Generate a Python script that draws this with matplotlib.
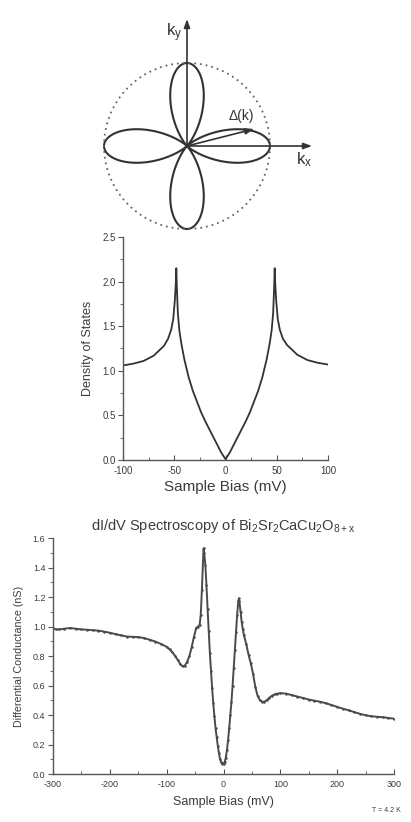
import numpy as np
import matplotlib
matplotlib.use("Agg")
from matplotlib import pyplot as plt
from matplotlib.ticker import MultipleLocator

plt.rcParams['font.family'] = ['Liberation Sans', 'DejaVu Sans']
plt.rcParams['mathtext.fontset'] = 'custom'
plt.rcParams['mathtext.rm'] = 'Liberation Sans'
plt.rcParams['mathtext.it'] = 'Liberation Sans'
plt.rcParams['axes.unicode_minus'] = False

# --- d-wave gap schematic (top) ---
gap_max_px = 83          # lobe length = dotted circle radius
gap_center = (187, 146)

# --- d-wave density of states (middle) ---
dos_bias = [-100, -90, -80, -70, -60, -56, -53, -51, -49.5, -48.5, -48, -47.5, -46.5,
            -45, -43, -40, -36, -32, -28, -24, -20, -16, -12, -8, -4, 0,
            4, 8, 12, 16, 20, 24, 28, 32, 36, 40, 43, 45, 46.5, 47.5, 48, 48.5,
            49.5, 51, 53, 56, 60, 70, 80, 90, 100]
dos_value = [1.06, 1.08, 1.11, 1.17, 1.28, 1.36, 1.46, 1.58, 1.78, 1.98, 2.15, 1.95, 1.65,
             1.45, 1.30, 1.12, 0.93, 0.78, 0.66, 0.54, 0.44, 0.35, 0.26, 0.17, 0.08, 0.01,
             0.08, 0.17, 0.26, 0.35, 0.44, 0.54, 0.66, 0.78, 0.93, 1.12, 1.30, 1.45, 1.65,
             1.95, 2.15, 1.98, 1.78, 1.58, 1.46, 1.36, 1.29, 1.18, 1.12, 1.09, 1.07]

# --- measured dI/dV (bottom) ---
sts_bias = [-300, -295, -290, -280, -270, -260, -250, -240, -230, -220, -210, -200,
            -190, -180, -170, -160, -150, -140, -130, -120, -110, -100, -95, -90,
            -85, -80, -76, -72, -68, -64, -60, -56, -52, -48, -45, -42, -40, -38,
            -36, -35, -34, -32, -30, -28, -26, -24, -22, -20, -18, -16, -14, -12,
            -10, -8, -6, -4, -2, 0, 2, 4, 6, 8, 10, 12, 14, 16, 18, 20, 22, 24, 26,
            27, 28, 30, 32, 34, 36, 40, 44, 48, 52, 56, 60, 64, 68, 72, 76, 80, 85,
            90, 95, 100, 110, 120, 130, 140, 150, 160, 170, 180, 190, 200, 210, 220,
            230, 240, 250, 260, 270, 280, 290, 300]
sts_value = [0.99, 0.98, 0.98, 0.985, 0.99, 0.985, 0.98, 0.978, 0.975, 0.972, 0.965, 0.958,
             0.948, 0.94, 0.932, 0.93, 0.928, 0.922, 0.91, 0.898, 0.882, 0.862, 0.845, 0.825,
             0.80, 0.77, 0.745, 0.73, 0.735, 0.76, 0.80, 0.86, 0.93, 0.99, 1.0, 1.01, 1.08, 1.25,
             1.45, 1.53, 1.50, 1.42, 1.28, 1.12, 0.97, 0.82, 0.70, 0.58, 0.48, 0.39, 0.31, 0.25,
             0.19, 0.14, 0.10, 0.08, 0.07, 0.07, 0.08, 0.11, 0.16, 0.23, 0.31, 0.40, 0.49, 0.60,
             0.72, 0.84, 0.96, 1.08, 1.17, 1.19, 1.17, 1.10, 1.03, 0.98, 0.94, 0.88, 0.81, 0.75,
             0.68, 0.59, 0.53, 0.50, 0.49, 0.49, 0.50, 0.515, 0.53, 0.54, 0.545, 0.548,
             0.545, 0.535, 0.525, 0.515, 0.505, 0.497, 0.49, 0.48, 0.468, 0.455, 0.443, 0.432,
             0.42, 0.408, 0.398, 0.392, 0.388, 0.385, 0.38, 0.375]

ink = '#333333'
txt = '#3c3c3c'

fig = plt.figure(figsize=(4.11, 8.22), dpi=100)

# top: polar gap diagram, drawn in pixel units
ax0 = fig.add_axes([0, 1 - 250 / 822, 1, 250 / 822])
ax0.set_xlim(0, 411)
ax0.set_ylim(250, 0)
ax0.axis('off')
cx, cy = gap_center
th = np.linspace(0, 2 * np.pi, 1441)
r = gap_max_px * np.cos(2 * th) ** 2
ax0.plot(cx + r * np.cos(th), cy - r * np.sin(th), color=ink, lw=1.5)
ax0.plot(cx + gap_max_px * np.cos(th), cy - gap_max_px * np.sin(th),
         ls=(0, (1, 2.2)), color='#666666', lw=1.3)
arrow = dict(arrowstyle='-|>,head_length=0.5,head_width=0.18', color=ink, lw=1.2,
             shrinkA=0, shrinkB=0)
ax0.annotate('', xy=(cx, 19), xytext=(cx, cy), arrowprops=arrow)
ax0.annotate('', xy=(312, cy), xytext=(cx, cy), arrowprops=arrow)
ax0.annotate('', xy=(254, 129), xytext=(cx, cy), arrowprops=arrow)
ax0.text(174, 33, r'$\mathregular{k_y}$', fontsize=12, color=ink, ha='center', va='center')
ax0.text(304, 160, r'$\mathregular{k_x}$', fontsize=12, color=ink, ha='center', va='center')
ax0.text(241, 116, 'Δ(k)', fontsize=10, color=ink, ha='center', va='center')


def style(ax):
    for s in ['top', 'right']:
        ax.spines[s].set_visible(False)
    for s in ['left', 'bottom']:
        ax.spines[s].set_color('#555555')
        ax.spines[s].set_linewidth(1.0)
    ax.tick_params(axis='y', which='both', direction='out', colors='#555555', labelcolor=txt)
    ax.tick_params(axis='x', which='both', direction='in', colors='#555555', labelcolor=txt)
    ax.tick_params(which='major', length=3.5, width=0.8)
    ax.tick_params(which='minor', length=2, width=0.6)


# middle: density of states
ax1 = fig.add_axes([123 / 411, (822 - 460) / 822, 205 / 411, 223 / 822])
ax1.plot(dos_bias, dos_value, color=ink, lw=1.3)
ax1.set_xlim(-100, 100)
ax1.set_ylim(0, 2.5)
ax1.xaxis.set_major_locator(MultipleLocator(50))
ax1.xaxis.set_minor_locator(MultipleLocator(25))
ax1.yaxis.set_major_locator(MultipleLocator(0.5))
ax1.yaxis.set_minor_locator(MultipleLocator(0.25))
ax1.yaxis.set_major_formatter(lambda v, p: f'{v:.1f}')
style(ax1)
ax1.tick_params(axis='y', labelsize=7, pad=1.5)
ax1.tick_params(axis='x', labelsize=7, pad=4.5)
ax1.set_xlabel('Sample Bias (mV)', fontsize=11, color=txt, labelpad=3)
ax1.set_ylabel('Density of States', fontsize=9, color=txt, labelpad=6)

# bottom: measured spectrum
ax2 = fig.add_axes([53 / 411, (822 - 774) / 822, 341 / 411, 236 / 822])
ax2.plot(sts_bias, sts_value, color='#4a4a4a', lw=1.4, marker='.', ms=1.6)
ax2.set_xlim(-300, 300)
ax2.set_ylim(0, 1.6)
ax2.xaxis.set_major_locator(MultipleLocator(100))
ax2.xaxis.set_minor_locator(MultipleLocator(50))
ax2.yaxis.set_major_locator(MultipleLocator(0.2))
ax2.yaxis.set_minor_locator(MultipleLocator(0.1))
ax2.yaxis.set_major_formatter(lambda v, p: f'{v:.1f}')
style(ax2)
ax2.tick_params(axis='y', labelsize=6.5, pad=2)
ax2.tick_params(axis='x', labelsize=6.5, pad=4)
ax2.set_xlabel('Sample Bias (mV)', fontsize=9, color=txt, labelpad=5)
ax2.set_ylabel('Differential Conductance (nS)', fontsize=7.7, color=txt, labelpad=6)
ax2.set_title(r'dI/dV Spectroscopy of Bi$_2$Sr$_2$CaCu$_2$O$_{8+x}$', fontsize=10.5,
              color=txt, pad=6)
fig.text(386 / 411, 1 - 810 / 822, 'T = 4.2 K', fontsize=5, color=txt, ha='center', va='center')

fig.savefig('out.png', dpi=100)
